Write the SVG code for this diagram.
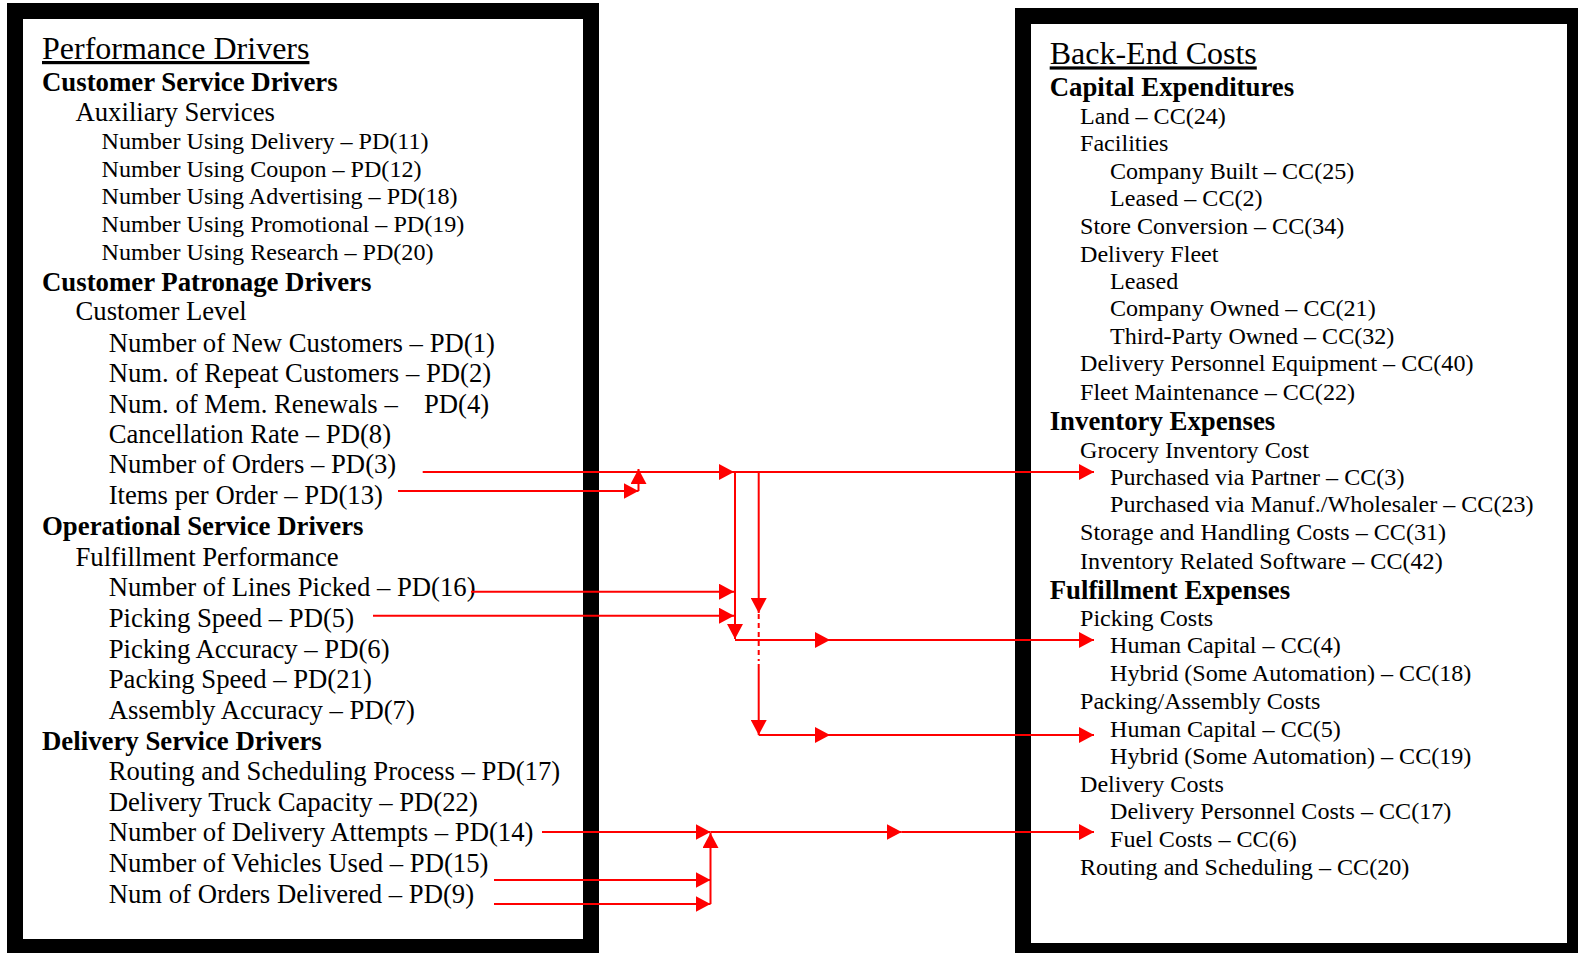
<svg xmlns="http://www.w3.org/2000/svg" width="1578" height="953" viewBox="0 0 1578 953">
<style>
text{font-family:"Liberation Serif","Times New Roman",serif;fill:#000}
.h{font-size:32px;text-decoration:underline}
.b{font-size:26.8px;font-weight:bold}
.m{font-size:26.7px}
.s{font-size:24.1px}
.box{fill:#fff;stroke:#000;stroke-width:16}
.c{stroke:#f00;stroke-width:2;fill:none}
.cm{stroke:#f00;stroke-width:2;fill:none;marker-end:url(#a)}
</style>
<defs>
<marker id="a" markerUnits="userSpaceOnUse" markerWidth="15" markerHeight="16" refX="15" refY="8" orient="auto" viewBox="0 0 15 16">
<path d="M0,0 L15,8 L0,16 Z" fill="#f00"/>
</marker>
</defs>
<rect width="1578" height="953" fill="#fff"/>
<g id="performance-drivers">
<rect class="box" x="15" y="11" width="576" height="936"/>
<text class="h" x="42" y="59">Performance Drivers</text>
<text class="b" x="42" y="90.6">Customer Service Drivers</text>
<text class="m" x="75.5" y="120.8">Auxiliary Services</text>
<text class="s" x="101.6" y="149">Number Using Delivery – PD(11)</text>
<text class="s" x="101.6" y="176.5">Number Using Coupon – PD(12)</text>
<text class="s" x="101.6" y="204.3">Number Using Advertising – PD(18)</text>
<text class="s" x="101.6" y="231.8">Number Using Promotional – PD(19)</text>
<text class="s" x="101.6" y="259.7">Number Using Research – PD(20)</text>
<text class="b" x="42" y="290.8">Customer Patronage Drivers</text>
<text class="m" x="75.5" y="320">Customer Level</text>
<text class="m" x="108.7" y="352.2">Number of New Customers – PD(1)</text>
<text class="m" x="108.7" y="382.4">Num. of Repeat Customers – PD(2)</text>
<text class="m" x="108.7" y="412.6">Num. of Mem. Renewals –<tspan x="424">PD(4)</tspan></text>
<text class="m" x="108.7" y="442.8">Cancellation Rate – PD(8)</text>
<text class="m" x="108.7" y="473">Number of Orders – PD(3)</text>
<text class="m" x="108.7" y="504.2">Items per Order – PD(13)</text>
<text class="b" x="42" y="535.4">Operational Service Drivers</text>
<text class="m" x="75.5" y="565.6">Fulfillment Performance</text>
<text class="m" x="108.7" y="595.8">Number of Lines Picked – PD(16)</text>
<text class="m" x="108.7" y="627">Picking Speed – PD(5)</text>
<text class="m" x="108.7" y="658.2">Picking Accuracy – PD(6)</text>
<text class="m" x="108.7" y="688.4">Packing Speed – PD(21)</text>
<text class="m" x="108.7" y="718.6">Assembly Accuracy – PD(7)</text>
<text class="b" x="42" y="749.8">Delivery Service Drivers</text>
<text class="m" x="108.7" y="780">Routing and Scheduling Process – PD(17)</text>
<text class="m" x="108.7" y="811.2">Delivery Truck Capacity – PD(22)</text>
<text class="m" x="108.7" y="841.4">Number of Delivery Attempts – PD(14)</text>
<text class="m" x="108.7" y="871.5">Number of Vehicles Used – PD(15)</text>
<text class="m" x="108.7" y="902.7">Num of Orders Delivered – PD(9)</text>
</g>
<g id="back-end-costs">
<rect class="box" x="1023" y="16" width="552" height="935"/>
<text class="h" x="1049.7" y="64.4">Back-End Costs</text>
<text class="b" x="1049.7" y="95.6">Capital Expenditures</text>
<text class="s" x="1080" y="123.8">Land – CC(24)</text>
<text class="s" x="1080" y="151">Facilities</text>
<text class="s" x="1110" y="179.1">Company Built – CC(25)</text>
<text class="s" x="1110" y="206.3">Leased – CC(2)</text>
<text class="s" x="1080" y="233.5">Store Conversion – CC(34)</text>
<text class="s" x="1080" y="261.7">Delivery Fleet</text>
<text class="s" x="1110" y="288.8">Leased</text>
<text class="s" x="1110" y="316">Company Owned – CC(21)</text>
<text class="s" x="1110" y="344.2">Third-Party Owned – CC(32)</text>
<text class="s" x="1080" y="371.4">Delivery Personnel Equipment – CC(40)</text>
<text class="s" x="1080" y="399.5">Fleet Maintenance – CC(22)</text>
<text class="b" x="1049.7" y="429.7">Inventory Expenses</text>
<text class="s" x="1080" y="457.9">Grocery Inventory Cost</text>
<text class="s" x="1110" y="485.1">Purchased via Partner – CC(3)</text>
<text class="s" x="1110" y="512.3">Purchased via Manuf./Wholesaler – CC(23)</text>
<text class="s" x="1080" y="540.4">Storage and Handling Costs – CC(31)</text>
<text class="s" x="1080" y="568.6">Inventory Related Software – CC(42)</text>
<text class="b" x="1049.7" y="598.8">Fulfillment Expenses</text>
<text class="s" x="1080" y="626">Picking Costs</text>
<text class="s" x="1110" y="653.2">Human Capital – CC(4)</text>
<text class="s" x="1110" y="681.3">Hybrid (Some Automation) – CC(18)</text>
<text class="s" x="1080" y="708.5">Packing/Assembly Costs</text>
<text class="s" x="1110" y="736.7">Human Capital – CC(5)</text>
<text class="s" x="1110" y="763.9">Hybrid (Some Automation) – CC(19)</text>
<text class="s" x="1080" y="792">Delivery Costs</text>
<text class="s" x="1110" y="819.2">Delivery Personnel Costs – CC(17)</text>
<text class="s" x="1110" y="847.4">Fuel Costs – CC(6)</text>
<text class="s" x="1080" y="874.6">Routing and Scheduling – CC(20)</text>
</g>
<g id="connectors">
<line class="cm" x1="422.7" y1="472" x2="734" y2="472"/>
<line class="cm" x1="734" y1="472" x2="1094" y2="472"/>
<line class="cm" x1="398" y1="491" x2="638.5" y2="491"/>
<line class="cm" x1="638.5" y1="491" x2="638.5" y2="469"/>
<line class="cm" x1="471" y1="591.7" x2="734" y2="591.7"/>
<line class="cm" x1="373" y1="615.7" x2="734" y2="615.7"/>
<line class="cm" x1="735" y1="472" x2="735" y2="639"/>
<line class="cm" x1="735" y1="640" x2="830" y2="640"/>
<line class="cm" x1="830" y1="640" x2="1094" y2="640"/>
<line class="cm" x1="758.7" y1="472" x2="758.7" y2="613"/>
<line class="c" x1="758.7" y1="614" x2="758.7" y2="661" stroke-width="3.5" stroke-dasharray="5,4"/>
<line class="cm" x1="758.7" y1="664" x2="758.7" y2="735"/>
<line class="cm" x1="758.7" y1="735" x2="830" y2="735"/>
<line class="cm" x1="830" y1="735" x2="1094" y2="735"/>
<line class="cm" x1="542" y1="832" x2="710.5" y2="832"/>
<line class="cm" x1="710.5" y1="832" x2="901.7" y2="832"/>
<line class="cm" x1="901.7" y1="832" x2="1094" y2="832"/>
<line class="cm" x1="494" y1="880" x2="710.5" y2="880"/>
<line class="cm" x1="494" y1="904" x2="710.5" y2="904"/>
<line class="cm" x1="710.5" y1="904" x2="710.5" y2="833"/>
</g>
</svg>
